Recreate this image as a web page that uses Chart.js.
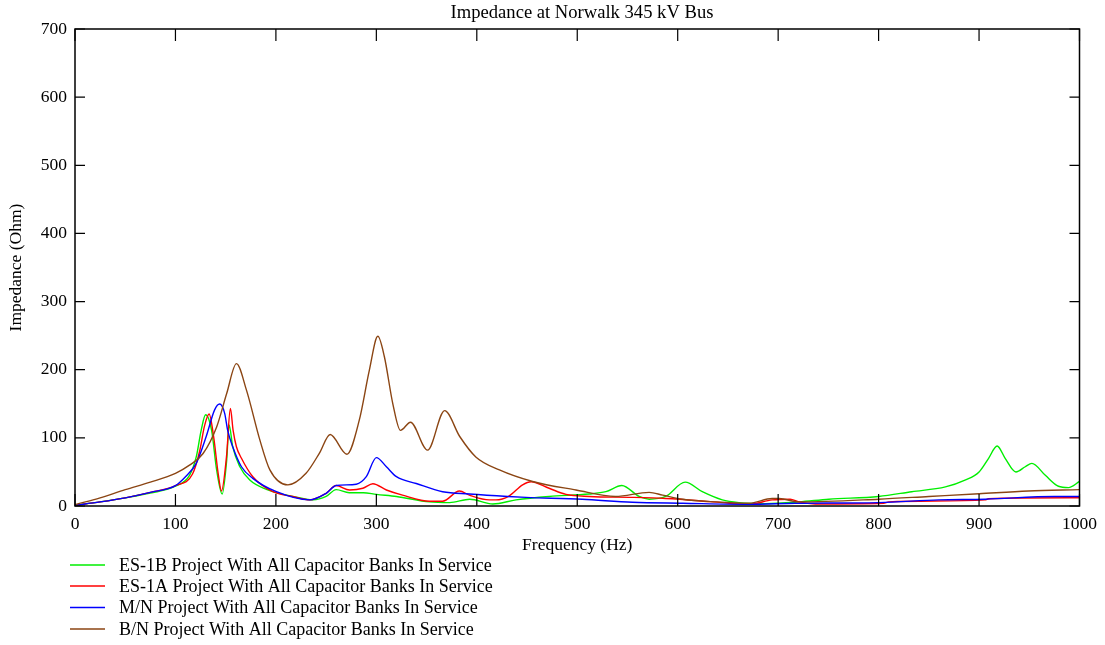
<!DOCTYPE html>
<html>
<head>
<meta charset="utf-8">
<script src="https://cdn.jsdelivr.net/npm/chart.js@4.4.1/dist/chart.umd.min.js"></script>
<style>
  html, body { margin: 0; padding: 0; background: #fff; }
  #wrap { width: 1105px; height: 645px; position: relative; }
</style>
</head>
<body>
<div id="wrap"><canvas id="chart" width="1105" height="645"></canvas></div>
<script>
"use strict";

// values (Hz, Ohm)
const esBFreq = [0, 25, 50, 75, 100, 114, 120.7, 125.6, 130, 136, 141, 146.5, 151, 153.4, 157, 164, 174, 190.5, 216.7, 237, 250, 260, 273, 287, 300, 320, 353, 373, 393, 416, 439, 472, 512, 528.5, 544.4, 561.6, 571.6, 588, 607.4, 624.5, 644.4, 661, 687.6, 720.7, 750.5, 800, 833, 866.5, 886, 900, 909.5, 918, 926, 936.7, 946, 952.6, 966, 979, 989, 1000];
const esBImp = [1, 6, 12, 19, 29, 45, 72, 111, 134, 111, 53, 17.6, 67, 119, 87, 58, 38, 24.5, 14, 9, 14, 24, 19.5, 19.5, 17, 14, 6, 5, 10, 3, 9, 14, 17.6, 21, 30, 14, 10, 14, 35, 21, 9, 5, 3.5, 6, 10, 14, 21, 28, 38, 50, 70, 88, 70, 50, 57.6, 62.6, 45, 29, 27, 36];

const esAFreq = [0, 25, 50, 75, 100, 117, 124, 129, 133.5, 138, 142.5, 145.8, 150.8, 154.7, 157.4, 160.7, 165.7, 177, 197, 216.7, 233.6, 250, 260, 273.3, 286.6, 296.5, 310, 326, 353, 366, 382.7, 392.6, 412.5, 419, 432, 445.6, 454, 472, 488.8, 512, 555, 588, 621, 644, 671, 694, 712, 720.7, 737, 805, 810, 906, 909.5, 990, 1000];
const esAImp = [1, 6, 12, 20, 30, 47, 80, 118, 135, 102, 48, 22, 72, 143, 111, 87, 70, 43, 21, 14, 9, 18.6, 30, 23.5, 26, 32.7, 23.5, 16, 7, 7, 22, 16, 9, 9, 14.6, 31, 35.6, 26, 17, 14, 12.7, 11, 7.8, 5, 2.5, 9, 10, 6, 3, 4, 6, 9, 10.7, 12, 12];

const mnFreq = [0, 25, 50, 75, 100, 110, 120.7, 130.6, 139, 144, 149, 152, 157, 165.7, 177, 200.5, 233.6, 250, 260, 280, 290, 300, 310, 320, 339.7, 366, 392.6, 430.7, 449, 505, 555, 605, 671, 717, 800, 860, 906, 975, 1000];
const mnImp = [1, 6, 12, 20, 30, 43, 62.6, 102, 141, 149.6, 136, 111, 87, 57.6, 40.6, 21, 9, 18.6, 30, 32, 43, 71, 57.6, 43, 33, 21, 17.6, 14, 12.7, 9.8, 5.4, 4, 2.5, 4, 5, 9, 10, 14, 14];

const bnFreq = [0, 25, 50, 75, 100, 114, 127.5, 141, 151, 160.7, 170.7, 184, 194, 212, 230, 243.5, 254, 270.7, 283, 293, 301.5, 308, 316.4, 324, 334, 351, 368, 383, 399, 422.5, 455.6, 498.7, 538, 571.6, 585, 605, 638, 671, 694, 701, 720.7, 800, 850, 900, 949, 1000];
const bnImp = [2, 12, 24, 35, 48, 60, 77, 116, 165, 209, 170, 97, 53, 31, 48, 78, 105, 76, 126, 199, 249, 219, 150, 111, 123, 82, 140, 102, 72, 53, 36, 23.5, 14, 20, 16, 10, 6, 4, 11, 11, 6, 10, 14, 18, 22, 24];

const seriesNames = [
  "ES-1B Project With All Capacitor Banks In Service",
  "ES-1A Project With All Capacitor Banks In Service",
  "M/N Project With All Capacitor Banks In Service",
  "B/N Project With All Capacitor Banks In Service"
];
const seriesColors = ["#00ee00", "#ff0000", "#0000ff", "#8b4513"];

const xTicks = [0, 100, 200, 300, 400, 500, 600, 700, 800, 900, 1000];
const yTicks = [0, 100, 200, 300, 400, 500, 600, 700];

const fontFamily = "'Liberation Serif', 'DejaVu Serif', serif";

function toPoints(xs, ys) {
  let pts = [];
  for (let i = 0; i < xs.length; i++) {
    pts.push({ x: xs[i], y: ys[i] });
  }
  return pts;
}

// frame, inward ticks, title and legend
const framePlugin = {
  id: "frame",
  afterDraw(chart) {
    const ctx = chart.ctx;
    const area = chart.chartArea;
    const xs = chart.scales.x;
    const ys = chart.scales.y;
    ctx.save();
    ctx.strokeStyle = "#000";
    ctx.lineWidth = 1.5;
    ctx.strokeRect(area.left, area.top, area.right - area.left, area.bottom - area.top);

    ctx.lineWidth = 1.2;
    ctx.beginPath();
    for (let i = 0; i < xTicks.length; i++) {
      const px = xs.getPixelForValue(xTicks[i]);
      ctx.moveTo(px, area.bottom);
      ctx.lineTo(px, area.bottom - 12);
      ctx.moveTo(px, area.top);
      ctx.lineTo(px, area.top + 12);
    }
    for (let i = 0; i < yTicks.length; i++) {
      const py = ys.getPixelForValue(yTicks[i]);
      ctx.moveTo(area.left, py);
      ctx.lineTo(area.left + 10, py);
      ctx.moveTo(area.right, py);
      ctx.lineTo(area.right - 10, py);
    }
    ctx.stroke();

    // title
    ctx.fillStyle = "#000";
    ctx.font = "18.6px " + fontFamily;
    ctx.textAlign = "center";
    ctx.textBaseline = "middle";
    ctx.fillText("Impedance at Norwalk 345 kV Bus", 582, 13);

    // legend
    ctx.font = "18px " + fontFamily;
    ctx.textAlign = "left";
    const rowY = [565, 586, 607.5, 629];
    for (let i = 0; i < seriesNames.length; i++) {
      ctx.strokeStyle = seriesColors[i];
      ctx.lineWidth = 1.3;
      ctx.beginPath();
      ctx.moveTo(70, rowY[i]);
      ctx.lineTo(105, rowY[i]);
      ctx.stroke();
      ctx.fillText(seriesNames[i], 119, rowY[i] + 1);
    }
    ctx.restore();
  }
};

const canvasElem = document.getElementById("chart");

const datasets = [];
const freqList = [esBFreq, esAFreq, mnFreq, bnFreq];
const impList = [esBImp, esAImp, mnImp, bnImp];
for (let i = 0; i < seriesNames.length; i++) {
  datasets.push({
    label: seriesNames[i],
    data: toPoints(freqList[i], impList[i]),
    borderColor: seriesColors[i],
    backgroundColor: seriesColors[i],
    borderWidth: 1.4,
    pointRadius: 0,
    cubicInterpolationMode: "monotone",
    fill: false,
    order: 3 - i
  });
}

const config = {
  type: "line",
  data: { datasets: datasets },
  options: {
    responsive: false,
    animation: false,
    layout: { padding: { top: 29, right: 22, bottom: 89, left: 0 } },
    plugins: {
      legend: { display: false },
      title: { display: false },
      tooltip: { enabled: false }
    },
    scales: {
      x: {
        type: "linear",
        min: 0,
        max: 1000,
        afterBuildTicks: (scale) => { scale.ticks = xTicks.map(v => ({ value: v })); },
        afterFit: (scale) => { scale.height = 50; },
        grid: { display: false, drawTicks: false },
        border: { display: false },
        ticks: {
          color: "#000",
          padding: 8,
          maxRotation: 0,
          font: { family: fontFamily, size: 17.5 },
          callback: (v) => String(v)
        },
        title: { display: true, text: "Frequency (Hz)", color: "#000", padding: 0, font: { family: fontFamily, size: 17.5 } }
      },
      y: {
        type: "linear",
        min: 0,
        max: 700,
        afterBuildTicks: (scale) => { scale.ticks = yTicks.map(v => ({ value: v })); },
        afterFit: (scale) => { scale.width = 75; },
        grid: { display: false, drawTicks: false },
        border: { display: false },
        ticks: { color: "#000", padding: 8, font: { family: fontFamily, size: 17.5 }, callback: (v) => String(v) },
        title: { display: true, text: "Impedance (Ohm)", color: "#000", padding: { top: 6, bottom: 0 }, font: { family: fontFamily, size: 17.5 } }
      }
    }
  },
  plugins: [framePlugin]
};

const newChart = new Chart(canvasElem, config);
</script>
</body>
</html>
